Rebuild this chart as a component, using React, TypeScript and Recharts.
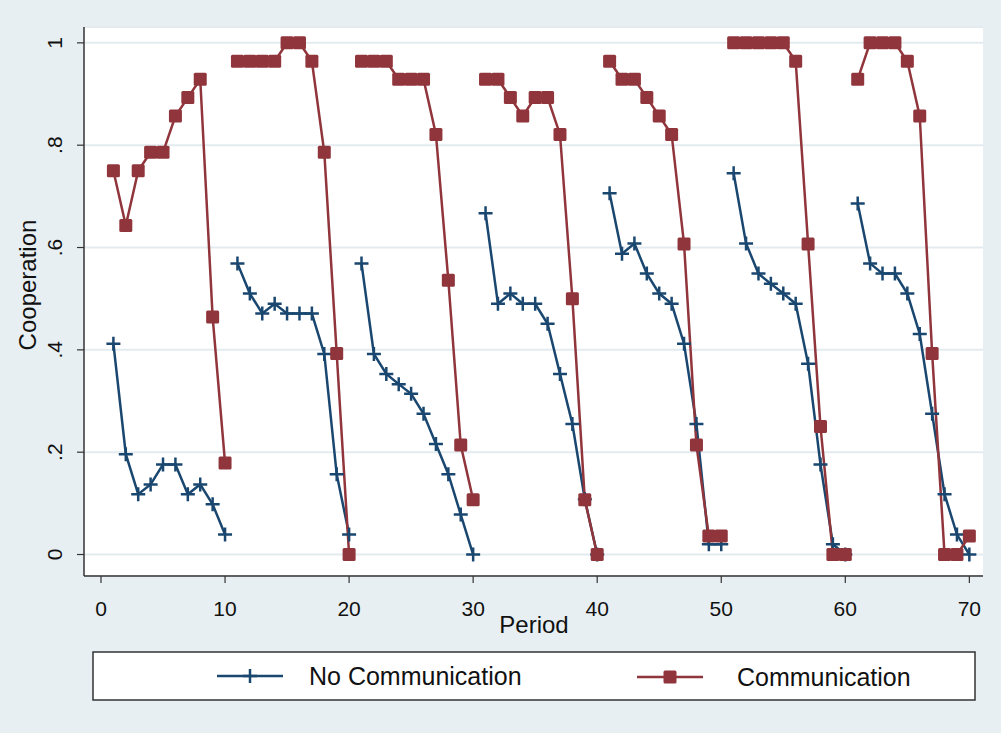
import { CartesianGrid, Line, LineChart, XAxis, YAxis } from "recharts";

const NAVY = "#1a476f";
const MAROON = "#90353b";
const FONT = '"Liberation Sans", Arial, sans-serif';

// periods 1..70, played in 7 blocks of 10
const periods = Array.from({ length: 70 }, (_, i) => i + 1);
const blockSize = 10;

const noCommunication = [
  0.412, 0.196, 0.118, 0.137, 0.176, 0.176, 0.118, 0.137, 0.098, 0.039,
  0.569, 0.51, 0.471, 0.49, 0.471, 0.471, 0.471, 0.392, 0.157, 0.039,
  0.569, 0.392, 0.353, 0.333, 0.314, 0.275, 0.216, 0.157, 0.078, 0,
  0.667, 0.49, 0.51, 0.49, 0.49, 0.451, 0.353, 0.255, 0.108, 0,
  0.706, 0.588, 0.608, 0.549, 0.51, 0.49, 0.412, 0.255, 0.02, 0.02,
  0.745, 0.608, 0.549, 0.529, 0.51, 0.49, 0.373, 0.176, 0.02, 0,
  0.686, 0.569, 0.549, 0.549, 0.51, 0.431, 0.275, 0.118, 0.039, 0,
];

const communication = [
  0.75, 0.643, 0.75, 0.786, 0.786, 0.857, 0.893, 0.929, 0.464, 0.179,
  0.964, 0.964, 0.964, 0.964, 1, 1, 0.964, 0.786, 0.393, 0,
  0.964, 0.964, 0.964, 0.929, 0.929, 0.929, 0.821, 0.536, 0.214, 0.107,
  0.929, 0.929, 0.893, 0.857, 0.893, 0.893, 0.821, 0.5, 0.107, 0,
  0.964, 0.929, 0.929, 0.893, 0.857, 0.821, 0.607, 0.214, 0.036, 0.036,
  1, 1, 1, 1, 1, 0.964, 0.607, 0.25, 0, 0,
  0.929, 1, 1, 1, 0.964, 0.857, 0.393, 0, 0, 0.036,
];

const xTicks = [0, 10, 20, 30, 40, 50, 60, 70];
const yTicks = [0, 0.2, 0.4, 0.6, 0.8, 1];
const yTickLabels = ["0", ".2", ".4", ".6", ".8", "1"];

function toBlocks(values: number[]) {
  const out: { period: number; value: number }[][] = [];
  for (let i = 0; i < periods.length; i += blockSize) {
    out.push(
      periods.slice(i, i + blockSize).map((p, j) => ({ period: p, value: values[i + j] }))
    );
  }
  return out;
}

const noCommBlocks = toBlocks(noCommunication);
const commBlocks = toBlocks(communication);

function PlusDot({ cx, cy }: { cx?: number; cy?: number }) {
  if (cx == null || cy == null) return null;
  return (
    <path
      d={`M${cx - 7},${cy}H${cx + 7}M${cx},${cy - 7}V${cy + 7}`}
      stroke={NAVY}
      strokeWidth={2.5}
      fill="none"
    />
  );
}

function SquareDot({ cx, cy }: { cx?: number; cy?: number }) {
  if (cx == null || cy == null) return null;
  return <rect x={cx - 6.5} y={cy - 6.5} width={13} height={13} rx={1.5} fill={MAROON} />;
}

function XTick({ x, y, payload }: any) {
  return (
    <text x={x} y={y + 31} textAnchor="middle" fontSize={21} fill="#111" fontFamily={FONT}>
      {payload.value}
    </text>
  );
}

function YTick({ x, y, payload }: any) {
  const i = yTicks.indexOf(payload.value);
  const bx = x - 13;
  return (
    <text
      x={bx}
      y={y}
      transform={`rotate(-90 ${bx} ${y})`}
      textAnchor="middle"
      fontSize={21}
      fill="#111"
      fontFamily={FONT}
    >
      {i >= 0 ? yTickLabels[i] : payload.value}
    </text>
  );
}

export default function App() {
  return (
    <div
      style={{
        position: "absolute",
        left: 0,
        top: 0,
        width: 1001,
        height: 733,
        background: "#e8eff2",
        fontFamily: FONT,
      }}
    >
      <LineChart width={1001} height={733} margin={{ top: 27, right: 18, bottom: 97, left: 0 }}>
        <CartesianGrid
          vertical={false}
          fill="#ffffff"
          stroke="#e3ebef"
          strokeWidth={2}
        />
        <XAxis
          type="number"
          dataKey="period"
          domain={[-1.37, 71.1]}
          allowDataOverflow
          ticks={xTicks}
          height={60}
          tickSize={7}
          tickLine={{ stroke: "#333", strokeWidth: 1.2 }}
          axisLine={{ stroke: "#333", strokeWidth: 1.5 }}
          tick={<XTick />}
        />
        <YAxis
          type="number"
          dataKey="value"
          domain={[-0.042, 1.031]}
          allowDataOverflow
          ticks={yTicks}
          width={84}
          tickSize={7}
          tickLine={{ stroke: "#333", strokeWidth: 1.2 }}
          axisLine={{ stroke: "#333", strokeWidth: 1.5 }}
          tick={<YTick />}
        />
        {noCommBlocks.map((block, b) => (
          <Line
            key={`nc${b}`}
            data={block}
            dataKey="value"
            type="linear"
            stroke={NAVY}
            strokeWidth={2.5}
            isAnimationActive={false}
            activeDot={false}
            dot={(p: any) => <PlusDot key={`ncd${b}-${p.index}`} cx={p.cx} cy={p.cy} />}
          />
        ))}
        {commBlocks.map((block, b) => (
          <Line
            key={`c${b}`}
            data={block}
            dataKey="value"
            type="linear"
            stroke={MAROON}
            strokeWidth={2.5}
            isAnimationActive={false}
            activeDot={false}
            dot={(p: any) => <SquareDot key={`cd${b}-${p.index}`} cx={p.cx} cy={p.cy} />}
          />
        ))}
      </LineChart>

      <svg
        width={1001}
        height={733}
        style={{ position: "absolute", left: 0, top: 0, pointerEvents: "none" }}
      >
        <text x={534} y={633} textAnchor="middle" fontSize={24} fill="#111" fontFamily={FONT}>
          Period
        </text>
        <text
          x={36}
          y={285}
          transform="rotate(-90 36 285)"
          textAnchor="middle"
          fontSize={24}
          fill="#111"
          fontFamily={FONT}
        >
          Cooperation
        </text>

        <rect x={93} y={652} width={882} height={48} fill="#fff" stroke="#333" strokeWidth={1.5} />
        <line x1={217} y1={676} x2={283} y2={676} stroke={NAVY} strokeWidth={2.5} />
        <PlusDot cx={250} cy={676} />
        <text x={309} y={685} fontSize={25} fill="#111" fontFamily={FONT}>
          No Communication
        </text>
        <line x1={637} y1={677} x2={703} y2={677} stroke={MAROON} strokeWidth={2.5} />
        <SquareDot cx={670} cy={677} />
        <text x={737} y={686} fontSize={25} fill="#111" fontFamily={FONT}>
          Communication
        </text>
      </svg>
    </div>
  );
}
